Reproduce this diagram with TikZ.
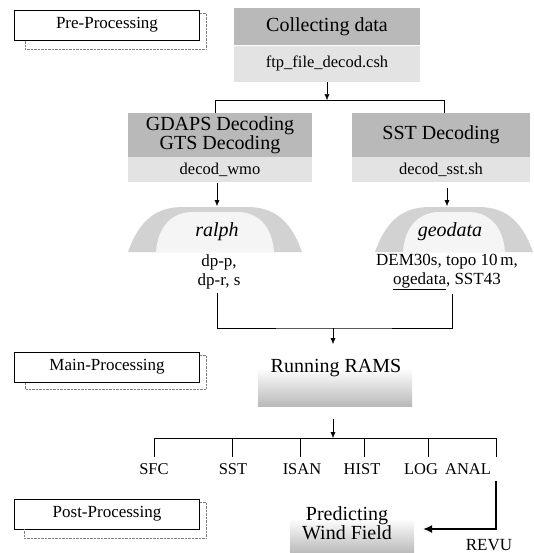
\documentclass[tikz,border=0pt]{standalone}
\usepackage{fontspec}
\setmainfont{Liberation Serif}
\usetikzlibrary{arrows.meta}

\begin{document}
\begin{tikzpicture}[x=1pt,y=-1pt,
  arr/.style={-{Latex[length=6pt,width=5pt]}},
  darkbox/.style={fill=gray!55,inner sep=0pt,align=center,font=\fontsize{20}{18}\selectfont},
  lightbox/.style={fill=gray!22,inner sep=0pt,font=\fontsize{16.5}{18}\selectfont},
  stagebox/.style={draw,fill=white,minimum width=185pt,minimum height=30pt,inner sep=0pt,font=\fontsize{17}{19}\selectfont},
  stageshadow/.style={gray,densely dotted},
  lbl/.style={align=center,font=\fontsize{17}{19}\selectfont},
  outlbl/.style={font=\fontsize{16.5}{18}\selectfont},
  fadebox/.style={top color=white,bottom color=gray!55,inner sep=0pt}]
  \useasboundingbox (0,0) rectangle (534,553);

  % stages on the left
  \node[stagebox] (pre) at (107,25) {Pre-Processing};
  \draw[stageshadow] ([shift={(0,3)}]pre.north east) -- ++(6,0) |- ([shift={(11,9)}]pre.south west) -- ++(0,-9);
  \node[stagebox] (main) at (107,367) {Main-Processing};
  \draw[stageshadow] ([shift={(0,3)}]main.north east) -- ++(6,0) |- ([shift={(11,7)}]main.south west) -- ++(0,-7);
  \node[stagebox] (post) at (107,514) {Post-Processing};
  \draw[stageshadow] ([shift={(0,3)}]post.north east) -- ++(6,0) |- ([shift={(10,9)}]post.south west) -- ++(0,-9);

  % pre-processing
  \node[darkbox,minimum width=186pt,minimum height=37pt] (collect) at (327,27) {Collecting data};
  \node[lightbox,minimum width=186pt,minimum height=36pt,anchor=north] (ftp) at (collect.south) {ftp\_file\_decod.csh};
  \node[darkbox,minimum width=184pt,minimum height=44pt] (gdaps) at (220,135) {GDAPS Decoding\\GTS Decoding};
  \node[lightbox,minimum width=184pt,minimum height=25pt,anchor=north] (wmo) at (gdaps.south) {decod\_wmo};
  \node[darkbox,minimum width=178pt,minimum height=44pt] (sstdec) at (441,135) {SST Decoding};
  \node[lightbox,minimum width=178pt,minimum height=25pt,anchor=north] (sstsh) at (sstdec.south) {decod\_sst.sh};

  \draw[arr] (ftp.south) -- ++(0,18);
  \draw ([xshift=-5pt]gdaps.north) -- ++(0,-13) -| ([xshift=3pt]sstdec.north);

  \foreach \cx/\hw in {215/87,454/79} {
    \fill[gray!35] (\cx-\hw,252) .. controls (\cx-\hw+12,218) and (\cx-\hw+30,207) .. (\cx-\hw+55,207)
      -- (\cx+\hw-55,207) .. controls (\cx+\hw-30,207) and (\cx+\hw-12,218) .. (\cx+\hw,252) -- cycle;
    \fill[gray!8] (\cx-\hw+28,252) .. controls (\cx-\hw+30,225) and (\cx-\hw+45,212) .. (\cx-\hw+65,212)
      -- (\cx+\hw-65,212) .. controls (\cx+\hw-45,212) and (\cx+\hw-30,225) .. (\cx+\hw-28,252) -- cycle;
  }
  \node[font=\itshape\fontsize{20}{20}\selectfont] (ralph) at (217,232) {ralph};
  \node[font=\itshape\fontsize{20}{20}\selectfont] (geodata) at (450,232) {geodata};
  \coordinate (ralphtop) at (217,206);
  \coordinate (geotop) at (447,206);
  \draw[arr] ([xshift=-3pt]wmo.south) -- (ralphtop);
  \draw[arr] ([shift={(6,5)}]sstsh.south) -- (geotop);

  \node[lbl] (dp) at (219,272) {dp-p,\\dp-r, s};
  \node[lbl] (dem) at (447,272) {DEM30s, topo 10\,m,\\\underline{ogedata}, SST43};
  \coordinate (merge) at (333,328);
  \draw ([shift={(-2,0)}]dp.south) |- (merge) -| ([shift={(5,0)}]dem.south);
  \draw[arr] (merge) -- ++(0,16);

  % main processing
  \node[fadebox,minimum width=154pt,minimum height=38pt] (ramsfade) at (335,387) {};
  \node[font=\fontsize{20}{20}\selectfont] (rams) at (336,368) {Running RAMS};
  \coordinate (split) at (333,438);
  \draw[arr] ([shift={(-2,13)}]ramsfade.south) -- (split);

  \foreach \n/\txt/\tx/\lx in {sfc/SFC/154/154,sst/SST/232/233,isan/ISAN/300/302,hist/HIST/364/362,log/LOG/428/421,anal/ANAL/496/468} {
    \coordinate (t\n) at (\tx,438);
    \draw (t\n) -- ++(0,19);
    \node[outlbl] (\n) at (\lx,469) {\txt};
  }
  \draw (tsfc) -- (tanal);

  % post processing
  \node[fadebox,minimum width=124pt,minimum height=35pt] (windfade) at (352,536) {};
  \node[font=\fontsize{20}{19}\selectfont,align=center] (wind) at (347,523) {Predicting\\Wind Field};
  \coordinate (analdown) at (496,481);
  \coordinate (revuin) at (423,529);
  \draw[line width=2pt,-{Latex[length=9pt,width=8pt]}] (analdown) |- (revuin);
  \node[font=\fontsize{17}{19}\selectfont,inner sep=1pt] (revu) at (489,545) {REVU};
\end{tikzpicture}
\end{document}
